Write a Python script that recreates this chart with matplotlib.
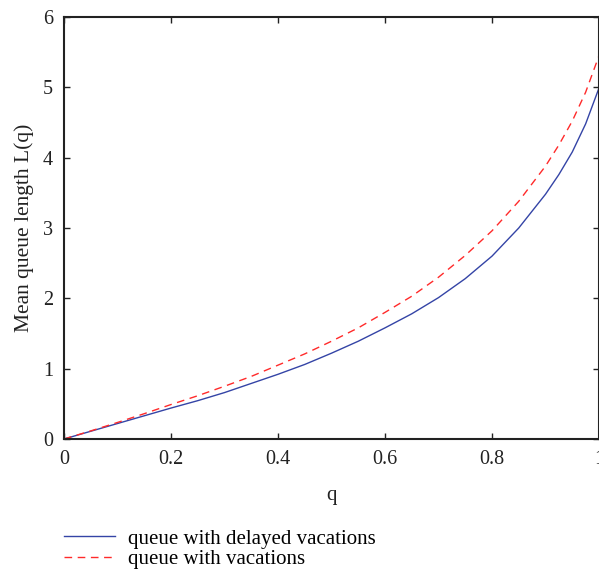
import numpy as np
import matplotlib.pyplot as plt

plt.rcParams['font.family'] = ['Liberation Serif', 'DejaVu Serif']

q = [0.0, 0.05, 0.1, 0.15, 0.2, 0.25, 0.3, 0.35, 0.4, 0.45, 0.5,
     0.55, 0.6, 0.65, 0.7, 0.75, 0.8, 0.85, 0.9, 0.925, 0.95, 0.975, 1.0]
L_delayed = [0.0, 0.11, 0.22, 0.33, 0.44, 0.545, 0.66, 0.79, 0.92, 1.06, 1.22,
             1.39, 1.58, 1.78, 2.01, 2.28, 2.60, 3.00, 3.48, 3.76, 4.08, 4.48, 4.99]
L_vacations = [0.0, 0.115, 0.235, 0.36, 0.49, 0.615, 0.75, 0.89, 1.05, 1.21, 1.39,
               1.58, 1.80, 2.03, 2.30, 2.61, 2.96, 3.38, 3.88, 4.18, 4.52, 4.93, 5.45]

fig = plt.figure(figsize=(5.99, 5.71), dpi=100)
ax = fig.add_axes([64 / 599, 1 - 439 / 571, 1 - 64 / 599, (439 - 17) / 571])

l1, = ax.plot(q, L_delayed, color="#3444a6", lw=1.0, label="queue with delayed vacations")
l2, = ax.plot(q, L_vacations, color="#ff2a2a", lw=1.0, ls=(0, (5.5, 4)), label="queue with vacations")

ax.set_xlim(0, 1)
ax.set_ylim(0, 6)
ax.set_xticks([0, 0.2, 0.4, 0.6, 0.8, 1])
ax.set_xticklabels(["0", "0.2", "0.4", "0.6", "0.8", "1"])
ax.set_yticks([0, 1, 2, 3, 4, 5, 6])
ax.tick_params(direction="in", length=4, width=1, top=True, right=True,
               labelsize=14.5, pad=8, colors="#222222")
for s in ax.spines.values():
    s.set_linewidth(1.5)
    s.set_color("#222222")

ax.set_xlabel("q", fontsize=15, color="#222222", labelpad=12)
ax.set_ylabel("Mean queue length L(q)", fontsize=15.5, color="#222222", labelpad=6)

fig.legend(handles=[l1, l2], loc="upper left", bbox_to_anchor=(64 / 599, 1 - 529 / 571),
           frameon=False, fontsize=15, handlelength=2.45, handletextpad=0.62,
           labelspacing=0.05, borderaxespad=0, borderpad=0)

fig.savefig("out.png", dpi=100)
